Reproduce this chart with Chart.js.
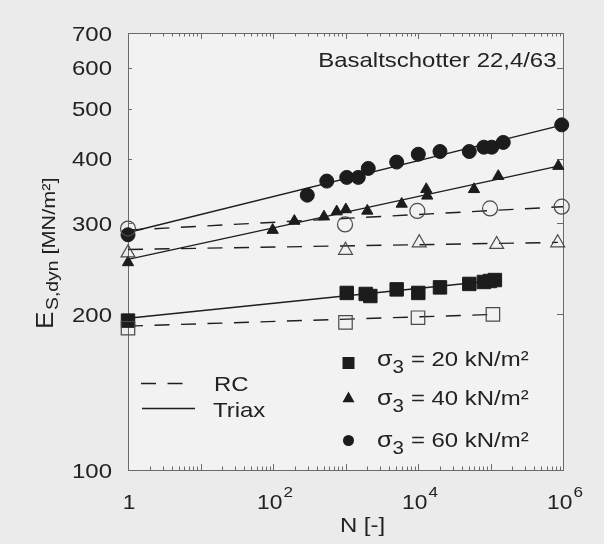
<!DOCTYPE html>
<html>
<head>
<meta charset="utf-8">
<script src="https://cdn.jsdelivr.net/npm/chart.js@4.4.1/dist/chart.umd.min.js"></script>
<style>
  html, body { margin: 0; padding: 0; background: #ebebeb; }
  #wrap { width: 604px; height: 544px; }
</style>
</head>
<body>
<div id="wrap"><canvas id="chart" width="604" height="544"></canvas></div>
<script>
// --- DATA ---
// Triax, filled markers
const nTri20 = [1, 1040, 1900, 2200, 5080, 10100, 20100, 51000, 81000, 98000, 115000];
const eTri20 = [194.5, 220, 219, 217, 223.5, 220, 225.5, 229, 231, 232, 233];
const nTri40 = [1, 99, 197, 505, 756, 1010, 2000, 5960, 13000, 13400, 59200, 128000, 861000];
const eTri40 = [252, 291, 303, 309, 316, 319, 317, 327, 349, 339, 349, 370, 387];
const nTri60 = [1, 297, 552, 1040, 1500, 2060, 5080, 10100, 20100, 51000, 81000, 104000, 150000, 960000];
const eTri60 = [285, 340, 362, 368, 368, 383, 394, 408, 413, 413, 421, 421, 430, 465];

// RC, open markers
const nRC20 = [1, 1000, 10000, 108000];
const eRC20 = [188, 193, 197, 200];
const nRC40 = [1, 1000, 10400, 121700, 845000];
const eRC40 = [263, 266, 275, 273, 275];
const nRC60 = [1, 985, 9800, 98500, 960000];
const eRC60 = [293, 298.5, 317, 320.5, 323];

// fitted lines (start / end)
const fitTri20N = [1, 135000];  const fitTri20E = [196.5, 233];
const fitTri40N = [1, 860000];  const fitTri40E = [255.5, 387];
const fitTri60N = [1, 1000000]; const fitTri60E = [288, 465];
const fitRC20N = [1, 123000];   const fitRC20E = [189.8, 200];
const fitRC40N = [1, 850000];   const fitRC40E = [267, 275.5];
const fitRC60N = [1, 1000000];  const fitRC60E = [291, 323];

// axes
const yTickVals = [100, 200, 300, 400, 500, 600, 700];
const xTickExps = [0, 2, 4, 6];
const sigmaVals = ['20', '40', '60'];

const INK = '#222222';
const FONT = '"Liberation Sans", Arial, sans-serif';
const SX = 1.14; // the scan's lettering is a bit wider than Arial

function pts(xs, ys) {
    return xs.map((x, i) => ({ x: x, y: ys[i] }));
}

function markSet(xs, ys, style, r, filled) {
    return {
        data: pts(xs, ys),
        showLine: false,
        pointStyle: style,
        pointRadius: r,
        pointHoverRadius: r,
        pointBackgroundColor: filled ? '#1c1c1c' : 'rgba(0,0,0,0)',
        pointBorderColor: filled ? '#1c1c1c' : '#4a4a4a',
        pointBorderWidth: filled ? 1 : 1.2,
        clip: false,
        order: 1
    };
}

function lineSet(xs, ys, dashed) {
    return {
        data: pts(xs, ys),
        showLine: true,
        borderColor: '#1e1e1e',
        borderWidth: 1.4,
        borderDash: dashed ? [15, 11.5] : [],
        pointRadius: 0,
        pointHoverRadius: 0,
        clip: false,
        order: 2
    };
}

// text with a little horizontal stretch, returns its width
function txt(ctx, s, x, y, size, align) {
    ctx.save();
    ctx.font = size + 'px ' + FONT;
    ctx.textBaseline = 'alphabetic';
    ctx.textAlign = 'left';
    const w = ctx.measureText(s).width * SX;
    let x0 = x;
    if (align === 'right') x0 = x - w;
    if (align === 'center') x0 = x - w / 2;
    ctx.translate(x0, y);
    ctx.scale(SX, 1);
    ctx.fillStyle = INK;
    ctx.fillText(s, 0, 0);
    ctx.restore();
    return w;
}

function txtWidth(ctx, s, size) {
    ctx.save();
    ctx.font = size + 'px ' + FONT;
    const w = ctx.measureText(s).width * SX;
    ctx.restore();
    return w;
}

function drawMark(ctx, style, x, y, r) {
    ctx.save();
    ctx.fillStyle = '#1c1c1c';
    ctx.beginPath();
    if (style === 'rect') {
        ctx.rect(x - r, y - r, 2 * r, 2 * r);
    } else if (style === 'triangle') {
        ctx.moveTo(x, y - r * 1.1);
        ctx.lineTo(x + r, y + r * 0.7);
        ctx.lineTo(x - r, y + r * 0.7);
        ctx.closePath();
    } else {
        ctx.arc(x, y, r, 0, Math.PI * 2);
    }
    ctx.fill();
    ctx.restore();
}

const decor = {
    id: 'decor',
    beforeDraw(chart) {
        const { ctx, chartArea: a } = chart;
        ctx.save();
        ctx.fillStyle = '#ebebeb';
        ctx.fillRect(0, 0, chart.width, chart.height);
        ctx.fillStyle = '#f2f2f2';
        ctx.fillRect(a.left, a.top, a.right - a.left, a.bottom - a.top);
        ctx.restore();
    },
    beforeDatasetsDraw(chart) {
        const { ctx, chartArea: a, scales } = chart;
        const xs = scales.x, ys = scales.y;
        ctx.save();
        ctx.strokeStyle = '#6a6a6a';
        ctx.lineWidth = 1;
        ctx.strokeRect(a.left + 0.5, a.top + 0.5, a.right - a.left, a.bottom - a.top);

        // inward log ticks on top and bottom
        ctx.beginPath();
        for (let d = 0; d < 6; d++) {
            for (let k = 1; k <= 9; k++) {
                const px = Math.round(xs.getPixelForValue(k * Math.pow(10, d))) + 0.5;
                const len = k === 1 ? 6 : 3.5;
                ctx.moveTo(px, a.bottom); ctx.lineTo(px, a.bottom - len);
                ctx.moveTo(px, a.top); ctx.lineTo(px, a.top + len);
            }
        }
        // y ticks, left and right
        yTickVals.forEach(v => {
            const py = Math.round(ys.getPixelForValue(v)) + 0.5;
            ctx.moveTo(a.left, py); ctx.lineTo(a.left + 4, py);
            ctx.moveTo(a.right, py); ctx.lineTo(a.right - 6, py);
        });
        ctx.stroke();
        ctx.restore();
    },
    afterDraw(chart) {
        const { ctx, chartArea: a, scales } = chart;
        const xs = scales.x, ys = scales.y;

        // y tick labels
        yTickVals.forEach(v => {
            txt(ctx, String(v), a.left - 16, ys.getPixelForValue(v) + 7.5, 21, 'right');
        });

        // x tick labels: 1, 10^2, 10^4, 10^6
        xTickExps.forEach(e => {
            const px = xs.getPixelForValue(Math.pow(10, e));
            if (e === 0) {
                txt(ctx, '1', px + 1, 508.5, 20, 'center');
            } else {
                const w1 = txtWidth(ctx, '10', 20);
                const w2 = txtWidth(ctx, String(e), 15);
                const x0 = px + 2 - (w1 + w2 + 1) / 2;
                txt(ctx, '10', x0, 508.5, 20, 'left');
                txt(ctx, String(e), x0 + w1 + 1, 496.5, 15, 'left');
            }
        });

        // axis titles
        txt(ctx, 'N [-]', 362.5, 531.5, 21, 'center');

        ctx.save();
        ctx.translate(53, 329);
        ctx.rotate(-Math.PI / 2);
        let u = txt(ctx, 'E', 0, 0, 23, 'left');
        u += 1.5;
        u += txt(ctx, 'S,dyn', u, 5, 17, 'left');
        u += 6;
        txt(ctx, '[MN/m\u00b2]', u, 1.5, 19, 'left');
        ctx.restore();

        // material label
        txt(ctx, 'Basaltschotter 22,4/63', 556.5, 67, 21, 'right');

        // legend: test type
        ctx.save();
        ctx.strokeStyle = '#1e1e1e';
        ctx.lineWidth = 1.4;
        ctx.setLineDash([15, 11.5]);
        ctx.beginPath();
        ctx.moveTo(141, 383.5); ctx.lineTo(183, 383.5);
        ctx.stroke();
        ctx.setLineDash([]);
        ctx.beginPath();
        ctx.moveTo(142, 408.5); ctx.lineTo(195, 408.5);
        ctx.stroke();
        ctx.restore();
        txt(ctx, 'RC', 214, 390.5, 21, 'left');
        txt(ctx, 'Triax', 213, 416.5, 21, 'left');

        // legend: confining pressure
        const rowBase = [366, 404.5, 447];
        const rowMark = [363, 398, 440.5];
        const rowStyle = ['rect', 'triangle', 'circle'];
        const rowSize = [6, 6, 5.5];
        sigmaVals.forEach((s, i) => {
            drawMark(ctx, rowStyle[i], 348.5, rowMark[i], rowSize[i]);
            let x = 377;
            x += txt(ctx, '\u03c3', x, rowBase[i], 22, 'left');
            x += txt(ctx, '3', x, rowBase[i] + 7, 18, 'left');
            txt(ctx, '= ' + s + ' kN/m\u00b2', x + 7, rowBase[i], 21, 'left');
        });
    }
};

new Chart(document.getElementById('chart'), {
    type: 'scatter',
    data: {
        datasets: [
            lineSet(fitTri20N, fitTri20E, false),
            lineSet(fitTri40N, fitTri40E, false),
            lineSet(fitTri60N, fitTri60E, false),
            lineSet(fitRC20N, fitRC20E, true),
            lineSet(fitRC40N, fitRC40E, true),
            lineSet(fitRC60N, fitRC60E, true),
            markSet(nRC20, eRC20, 'rect', 9.5, false),
            markSet(nRC40, eRC40, 'triangle', 8, false),
            markSet(nRC60, eRC60, 'circle', 7.5, false),
            markSet(nTri20, eTri20, 'rect', 9.5, true),
            markSet(nTri40, eTri40, 'triangle', 6.5, true),
            markSet(nTri60, eTri60, 'circle', 7, true)
        ]
    },
    options: {
        responsive: false,
        animation: false,
        events: [],
        layout: { padding: { left: 128, top: 33, right: 41, bottom: 74 } },
        scales: {
            x: { type: 'logarithmic', min: 1, max: 1000000, display: false },
            y: { type: 'logarithmic', min: 100, max: 700, display: false }
        },
        plugins: {
            legend: { display: false },
            tooltip: { enabled: false }
        }
    },
    plugins: [decor]
});
</script>
</body>
</html>
